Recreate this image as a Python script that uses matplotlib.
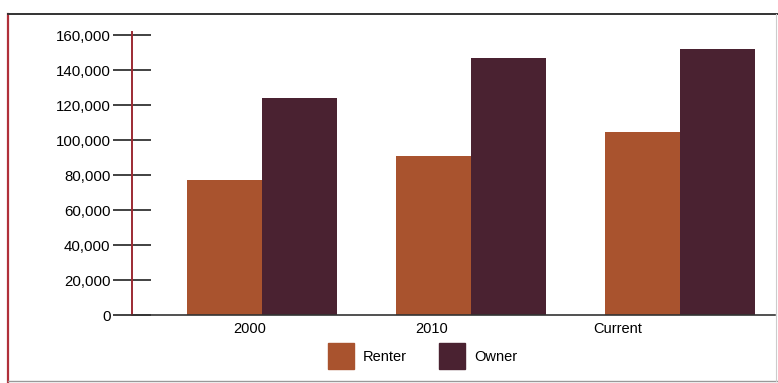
import numpy as np
import matplotlib.pyplot as plt
from matplotlib.lines import Line2D
from matplotlib.patches import Patch

# DATOS
categorias = ['2000', '2010', 'Current']
renter = [77000, 91000, 104500]
owner = [124000, 147000, 152000]
yticks = [0, 20000, 40000, 60000, 80000, 100000, 120000, 140000, 160000]

plt.rcParams['font.family'] = ['Liberation Sans', 'DejaVu Sans']

c_renter = '#a9532e'
c_owner = '#4a2231'

fig = plt.figure(figsize=(7.78, 3.83), dpi=100)
ax = fig.add_axes([0.1697, 0.1775, 0.8265, 0.731])

x = np.arange(len(categorias))
w = 0.36
ax.bar(x - w / 2, renter, width=w, color=c_renter, label='Renter')
ax.bar(x + w / 2, owner, width=w, color=c_owner, label='Owner')

ax.set_xlim(-0.622, 2.455)
ax.set_ylim(0, 160000)

# ejes
for s in ['top', 'right']:
    ax.spines[s].set_visible(False)
ax.spines['left'].set_color('#9c2a33')
ax.spines['left'].set_linewidth(1.4)
ax.spines['left'].set_bounds(0, 161500)
ax.spines['bottom'].set_color('#333333')
ax.spines['bottom'].set_linewidth(1.2)

ax.set_yticks(yticks)
ax.set_yticklabels([f'{v:,}' for v in yticks])
ax.tick_params(axis='y', direction='inout', length=27, width=1.3, color='#333333',
               labelsize=10.8, pad=2)

# etiquetas del eje x (desplazadas como en la imagen)
ax.set_xticks([-0.06, 0.81, 1.70])
ax.set_xticklabels(categorias)
ax.tick_params(axis='x', length=0, labelsize=10.5, pad=5)

leg = fig.legend(handles=[Patch(color=c_renter, label='Renter'),
                          Patch(color=c_owner, label='Owner')],
                 loc='center', bbox_to_anchor=(0.543, 0.07), ncol=2, frameon=False,
                 fontsize=10.5, handlelength=1.8, handleheight=2.4, handletextpad=0.6,
                 columnspacing=2.2)

# marco exterior
fig.add_artist(Line2D([8 / 778, 8 / 778], [0, 1 - 14 / 383], color='#b0303a', lw=1.6))
fig.add_artist(Line2D([8 / 778, 1], [1 - 14 / 383, 1 - 14 / 383], color='#333333', lw=1.4))
fig.add_artist(Line2D([8 / 778, 1], [2 / 383, 2 / 383], color='#999999', lw=1.0))
fig.add_artist(Line2D([776 / 778, 776 / 778], [2 / 383, 1 - 14 / 383], color='#cccccc', lw=0.8))

fig.savefig('out.png', dpi=100)
